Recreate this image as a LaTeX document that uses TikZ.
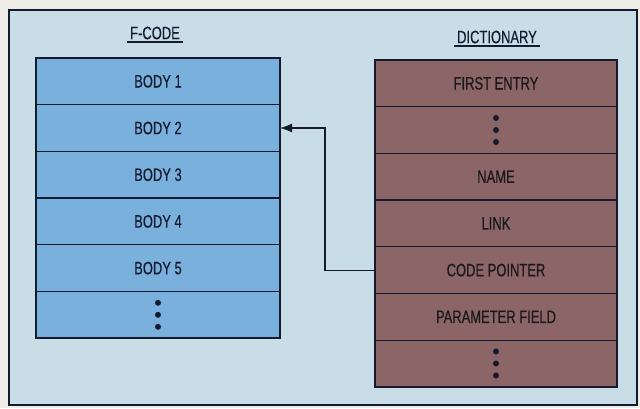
\documentclass[tikz,border=0pt]{standalone}
\usepackage{fontspec}
\setmainfont{Liberation Sans}[FakeStretch=0.72,FakeBold=0.4]
\usetikzlibrary{arrows.meta,positioning}

\definecolor{paper}{HTML}{EEEDE6}
\definecolor{panel}{HTML}{C8DDE6}
\definecolor{codeblue}{HTML}{7AB1DC}
\definecolor{dictbrown}{HTML}{8C6666}
\definecolor{ink}{HTML}{161A30}

\tikzset{
  fcell/.style={draw=ink,fill=codeblue,line width=1.2pt,minimum width=244pt,minimum height=46.7pt,inner sep=0pt,outer sep=0pt,text=ink,font=\fontsize{18}{20}\selectfont},
  dcell/.style={fcell,fill=dictbrown,minimum width=242pt,text=black!90},
  heading/.style={inner sep=2.5pt,text=ink,font=\fontsize{18}{20}\selectfont},
  vdots/.style={fill=ink},
}

\begin{document}
\begin{tikzpicture}[x=1pt,y=-1pt]
    \useasboundingbox (0,0) rectangle (640,408);
    \fill[paper] (0,0) rectangle (640,408);
    \filldraw[fill=panel,draw=ink,line width=2pt] (9,10) rectangle (637,405);

    % F-code column
    \node[fcell] (b1) at (158,81.3) {BODY 1};
    \node[fcell,below=0pt of b1] (b2) {BODY 2};
    \node[fcell,below=0pt of b2] (b3) {BODY 3};
    \node[fcell,below=0pt of b3] (b4) {BODY 4};
    \node[fcell,below=0pt of b4] (b5) {BODY 5};
    \node[fcell,below=0pt of b5] (bdots) {};
    \draw[ink,line width=2.4pt] (b1.north west) rectangle (bdots.south east);
    \node[heading] (fcode) at (155,33) {F-CODE};
    \draw[ink,line width=1.2pt] (fcode.south west) -- (fcode.south east);

    % dictionary column
    \node[dcell] (first) at (496,83.3) {FIRST ENTRY};
    \node[dcell,below=0pt of first] (ddots) {};
    \node[dcell,below=0pt of ddots] (name) {NAME};
    \node[dcell,below=0pt of name] (link) {LINK};
    \node[dcell,below=0pt of link] (cp) {CODE POINTER};
    \node[dcell,below=0pt of cp] (pf) {PARAMETER FIELD};
    \node[dcell,below=0pt of pf] (edots) {};
    \draw[ink,line width=2.4pt] (first.north west) rectangle (edots.south east);
    \node[heading] (dict) at (497,37) {DICTIONARY};
    \draw[ink,line width=1.2pt] (dict.south west) -- (dict.south east);

    \foreach \c in {bdots,ddots,edots}
      \foreach \d in {-12,0,12}
        \fill[vdots] (\c.center) ++(0,\d) circle (3pt);

    \draw[ink,line width=1.1pt,-{Latex[length=12pt,width=9pt]}] (cp.west) -- ++(-50,0) |- (b2.east);
  \end{tikzpicture}
\end{document}
